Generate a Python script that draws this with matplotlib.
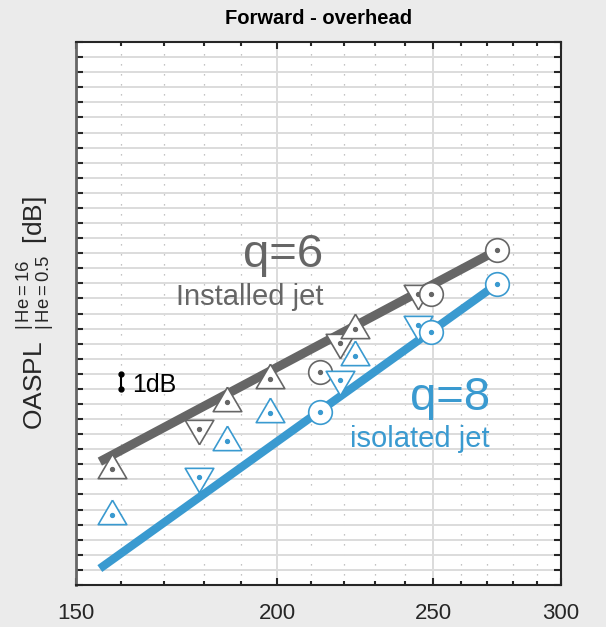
import matplotlib
matplotlib.use('Agg')
import matplotlib.pyplot as plt
from matplotlib.ticker import FixedLocator, FixedFormatter, NullFormatter

plt.rcParams['font.family'] = ['Liberation Sans', 'DejaVu Sans']
plt.rcParams['mathtext.fontset'] = 'custom'
plt.rcParams['mathtext.rm'] = 'Liberation Sans'
plt.rcParams['mathtext.it'] = 'Liberation Sans:italic'

# jet speed (x, log axis) and OASPL levels (dB, arbitrary offset)
speeds = [158.0, 178.8, 186.1, 197.9, 212.5, 218.7, 223.4, 244.5, 249.1, 273.7]
shapes = ['^', 'v', '^', '^', 'o', 'v', '^', 'v', 'o', 'o']
installed = [7.69, 10.33, 12.14, 13.63, 14.10, 16.03, 17.00, 19.30, 19.28, 22.18]
isolated = [4.62, 7.14, 9.57, 11.43, 11.47, 13.59, 15.19, 17.27, 16.76, 19.94]

# fitted trend lines
fit_x = [155.2, 273.7]
installed_fit = [8.18, 22.18]
isolated_fit = [1.09, 19.94]

x_major = [150, 200, 250, 300]
x_minor = [160, 170, 180, 190, 210, 220, 230, 240, 260, 270, 280, 290]

gray = '#666666'
blue = '#3a9ad0'

up_tri = [(0, 1.07), (-1, -0.64), (1, -0.64), (0, 1.07)]
down_tri = [(0, -1.07), (-1, 0.64), (1, 0.64), (0, -1.07)]
marker_map = {'^': up_tri, 'v': down_tri, 'o': 'o'}
size_map = {'^': 22, 'v': 22, 'o': 17}

fig = plt.figure(figsize=(6.06, 6.27), dpi=100, facecolor='#ebebeb')
ax = fig.add_axes([0.1254, 0.067, 0.8003, 0.866])
ax.set_xscale('log')

ax.plot(fit_x, installed_fit, color=gray, lw=6.5, solid_capstyle='butt', zorder=2)
ax.plot(fit_x, isolated_fit, color=blue, lw=6, solid_capstyle='butt', zorder=2)

for levels, c in [(installed, gray), (isolated, blue)]:
    for x, y, s in zip(speeds, levels, shapes):
        ax.plot([x], [y], marker=marker_map[s], ms=size_map[s], mfc='white',
                mec=c, mew=1.2, ls='none', zorder=3)
        ax.plot([x], [y], marker='o', ms=2.8, color=c, ls='none', zorder=3)

# 1 dB scale bar
ax.plot([160, 160], [13, 14], color='black', lw=1.5, marker='o', ms=3.5, zorder=3)
ax.text(162.6, 12.78, '1dB', fontsize=18, color='black', ha='left', va='baseline')

ax.text(213.7, 21.1, 'q=6', fontsize=34, color=gray, ha='right', va='baseline')
ax.text(213.7, 18.57, 'Installed jet', fontsize=21, color=gray, ha='right', va='baseline')
ax.text(271, 11.6, 'q=8', fontsize=34, color=blue, ha='right', va='baseline')
ax.text(271, 9.15, 'isolated jet', fontsize=21, color=blue, ha='right', va='baseline')

ax.set_xlim(150, 300)
ax.set_ylim(0, 36)
ax.xaxis.set_major_locator(FixedLocator(x_major))
ax.xaxis.set_major_formatter(FixedFormatter([str(v) for v in x_major]))
ax.xaxis.set_minor_locator(FixedLocator(x_minor))
ax.xaxis.set_minor_formatter(NullFormatter())
ax.set_yticks(range(0, 37))
ax.set_yticklabels([])

ax.tick_params(axis='both', which='both', direction='in', top=True, right=True,
               colors='#262626')
ax.tick_params(axis='x', which='major', length=5, width=1.5, labelsize=16, pad=13)
ax.tick_params(axis='x', which='minor', length=3, width=1.5)
ax.tick_params(axis='y', which='major', length=5, width=1.5)

ax.grid(True, axis='y', which='major', color='#dcdcdc', lw=1.4, zorder=0)
ax.grid(True, axis='x', which='major', color='#dcdcdc', lw=1.4, zorder=0)
ax.grid(True, axis='x', which='minor', color='#b0b0b0', lw=0.9, ls=(0, (1, 7)), zorder=0)
ax.set_axisbelow(True)

for side in ['top', 'bottom', 'right']:
    ax.spines[side].set_color('#262626')
    ax.spines[side].set_linewidth(1.5)
ax.spines['left'].set_color('#666666')
ax.spines['left'].set_linewidth(2)

ax.set_title('Forward - overhead', fontsize=14.5, fontweight='bold', pad=13)
ax.set_ylabel(r'OASPL$\;\;{}^{|\,\mathrm{He=16}}_{|\,\mathrm{He=0.5}}\;\;$[dB]',
              fontsize=19, color='#262626', labelpad=11)

fig.savefig('out.png', dpi=100, facecolor=fig.get_facecolor())
